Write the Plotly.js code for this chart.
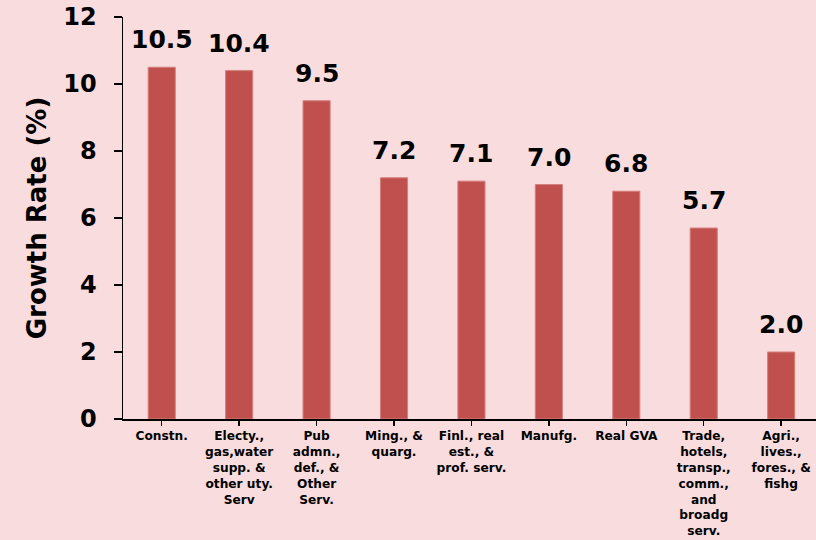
<!DOCTYPE html>
<html>
<head>
<meta charset="utf-8">
<script src="https://cdn.plot.ly/plotly-3.0.1.min.js"></script>
<style>
  html, body { margin: 0; padding: 0; background: #F9DCDE; }
  #chart { width: 816px; height: 540px; }
</style>
</head>
<body>
<div id="chart"></div>
<script>
// Sector growth rates (%)
const sectors = [
  "Constn.",
  "Electy.,<br>gas,water<br>supp. &<br>other uty.<br>Serv",
  "Pub<br>admn.,<br>def., &<br>Other<br>Serv.",
  "Ming., &<br>quarg.",
  "Finl., real<br>est., &<br>prof. serv.",
  "Manufg.",
  "Real GVA",
  "Trade,<br>hotels,<br>transp.,<br>comm.,<br>and<br>broadg<br>serv.",
  "Agri.,<br>lives.,<br>fores., &<br>fishg"
];
const growth = [10.5, 10.4, 9.5, 7.2, 7.1, 7.0, 6.8, 5.7, 2.0];
const yTicks = [0, 2, 4, 6, 8, 10, 12];

const FONT = "Verdana, 'DejaVu Sans', sans-serif";
const idx = sectors.map((_, i) => i);

const trace = {
  type: "bar",
  x: idx,
  y: growth,
  width: 0.35,
  marker: { color: "#C0504D", line: { color: "#D57F7C", width: 1 } },
  hoverinfo: "skip"
};

// value labels above each bar
const valueLabels = idx.map(i => ({
  x: i, y: growth[i], xref: "x", yref: "y",
  text: "<b>" + growth[i].toFixed(1) + "</b>",
  showarrow: false, yanchor: "bottom", yshift: 11,
  font: { family: FONT, size: 25, color: "#000" }
}));

const layout = {
  width: 816, height: 540,
  paper_bgcolor: "#F9DCDE",
  plot_bgcolor: "#F9DCDE",
  margin: { l: 123, r: 0, t: 17, b: 121 },
  showlegend: false,
  annotations: valueLabels,
  xaxis: {
    range: [-0.5, 8.45],
    tickmode: "array",
    tickvals: idx,
    ticktext: sectors.map(s => "<b>" + s + "</b>"),
    tickson: "boundaries",
    ticks: "outside", ticklen: 5, tickwidth: 1.5, tickcolor: "#000",
    tickangle: 0,
    tickfont: { family: FONT, size: 12.2, color: "#000" },
    showline: true, linecolor: "#000", linewidth: 1.5,
    showgrid: false, zeroline: false, fixedrange: true
  },
  yaxis: {
    range: [0, 12],
    tickmode: "array",
    tickvals: yTicks,
    ticktext: yTicks.map(v => "<b>" + v + "</b>"),
    ticks: "outside", ticklen: 8, tickwidth: 1.5, tickcolor: "#000",
    ticklabelstandoff: 12,
    tickfont: { family: FONT, size: 24, color: "#000" },
    showline: true, linecolor: "#000", linewidth: 1.5,
    showgrid: false, zeroline: false, fixedrange: true,
    title: {
      text: "<b>Growth Rate (%)</b>",
      font: { family: FONT, size: 26, color: "#000" },
      standoff: 9
    }
  }
};

Plotly.newPlot("chart", [trace], layout, { displayModeBar: false, staticPlot: true });
</script>
</body>
</html>
